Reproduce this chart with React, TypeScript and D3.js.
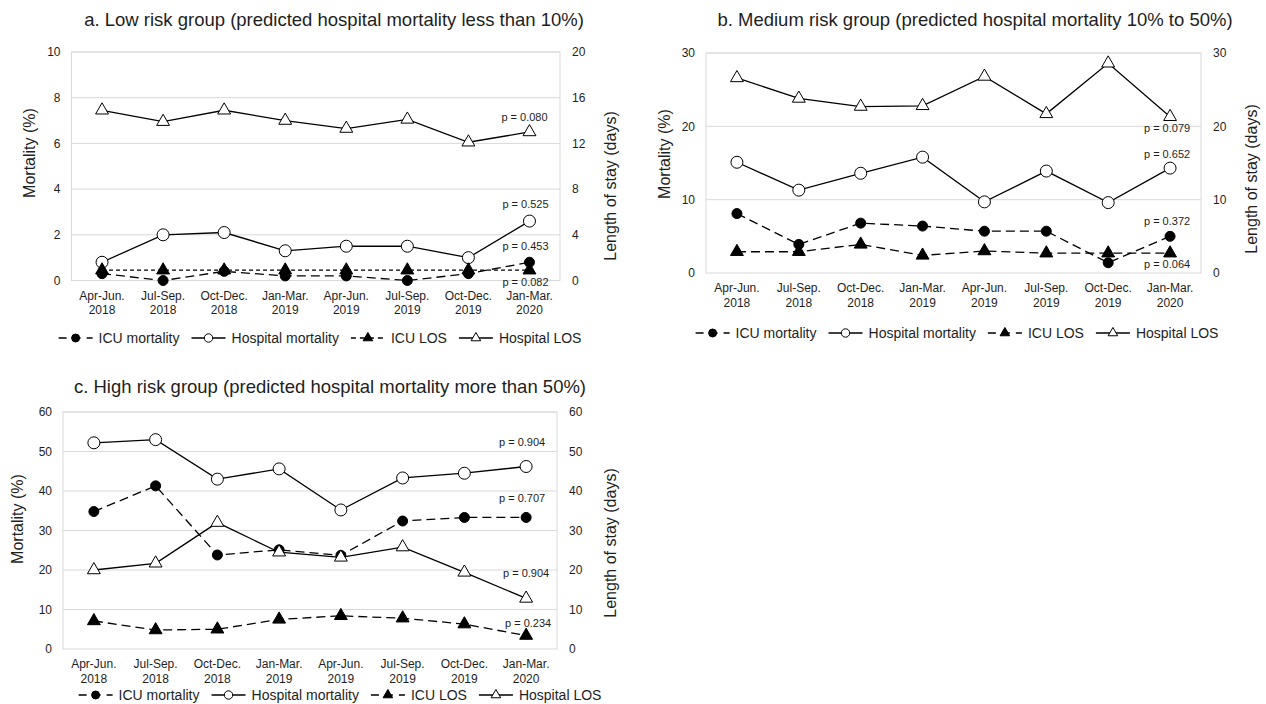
import React, { useEffect, useRef } from "react";
import * as d3 from "d3";

// categories (quarters)
const quarters = [
  "Apr-Jun. 2018",
  "Jul-Sep. 2018",
  "Oct-Dec. 2018",
  "Jan-Mar. 2019",
  "Apr-Jun. 2019",
  "Jul-Sep. 2019",
  "Oct-Dec. 2019",
  "Jan-Mar. 2020",
];
const seriesNames = ["ICU mortality", "Hospital mortality", "ICU LOS", "Hospital LOS"];

// a. Low risk group
const lowIcuMortality = [0.3, 0.0, 0.4, 0.2, 0.2, 0.0, 0.3, 0.8];
const lowHospitalMortality = [0.8, 2.0, 2.1, 1.3, 1.5, 1.5, 1.0, 2.6];
const lowIcuLos = [0.9, 0.9, 0.9, 0.9, 0.9, 0.9, 0.9, 0.9];
const lowHospitalLos = [14.9, 13.9, 14.9, 14.0, 13.3, 14.1, 12.1, 13.0];
const lowPValues = ["0.080", "0.525", "0.453", "0.082"];

// b. Medium risk group
const medIcuMortality = [8.1, 3.9, 6.8, 6.4, 5.7, 5.7, 1.4, 5.0];
const medHospitalMortality = [15.1, 11.3, 13.6, 15.8, 9.7, 13.9, 9.6, 14.3];
const medIcuLos = [2.9, 2.9, 3.9, 2.4, 3.0, 2.7, 2.7, 2.7];
const medHospitalLos = [26.6, 23.8, 22.7, 22.8, 26.8, 21.7, 28.6, 21.3];
const medPValues = ["0.079", "0.652", "0.372", "0.064"];

// c. High risk group
const highIcuMortality = [34.8, 41.3, 23.8, 25.1, 23.7, 32.4, 33.3, 33.3];
const highHospitalMortality = [52.2, 53.0, 43.0, 45.6, 35.2, 43.3, 44.5, 46.2];
const highIcuLos = [7.1, 4.8, 5.0, 7.5, 8.4, 7.8, 6.3, 3.4];
const highHospitalLos = [20.0, 21.7, 32.0, 24.5, 23.2, 25.8, 19.4, 12.8];
const highPValues = ["0.904", "0.707", "0.904", "0.234"];

const FONT = "'Liberation Sans', Arial, sans-serif";
const GRID = "#d9d9d9";
const TEXT = "#1e1e1e";

const panels = [
  {
    title: "a. Low risk group (predicted hospital mortality less than 10%)",
    titleX: 334, titleY: 20,
    left: 71.5, right: 560, top: 52, bottom: 280.5,
    yMax: 10, yStep: 2, y2Max: 20, y2Step: 4,
    leftTitleX: 29, leftTitleY: 153, rightTitleX: 610, rightTitleY: 186,
    legendCx: 320, legendY: 338,
    icuLosDash: "4,3",
    series: [lowIcuMortality, lowHospitalMortality, lowIcuLos, lowHospitalLos],
    pValues: lowPValues,
    pAt: [7.15, 3.35, 1.5, -0.07],
    pDx: [-5, -4, -4, -4],
  },
  {
    title: "b. Medium risk group (predicted hospital mortality 10% to 50%)",
    titleX: 975, titleY: 20,
    left: 706, right: 1201, top: 53, bottom: 273,
    yMax: 30, yStep: 10, y2Max: 30, y2Step: 10,
    leftTitleX: 664, leftTitleY: 154, rightTitleX: 1251, rightTitleY: 179,
    legendCx: 957, legendY: 333,
    icuLosDash: "9,5",
    series: [medIcuMortality, medHospitalMortality, medIcuLos, medHospitalLos],
    pValues: medPValues,
    pAt: [19.8, 16.2, 7.1, 1.2],
    pDx: [-3, -3, -3, -3],
  },
  {
    title: "c. High risk group (predicted hospital mortality more than 50%)",
    titleX: 330, titleY: 387,
    left: 63, right: 557, top: 412, bottom: 649,
    yMax: 60, yStep: 10, y2Max: 60, y2Step: 10,
    leftTitleX: 17, leftTitleY: 519, rightTitleX: 610, rightTitleY: 543,
    legendCx: 340, legendY: 695,
    icuLosDash: "9,5",
    series: [highIcuMortality, highHospitalMortality, highIcuLos, highHospitalLos],
    pValues: highPValues,
    pAt: [52.4, 38.2, 19.2, 6.6],
    pDx: [-4, -4, 0, 2],
  },
];

// marker / axis per series: ICU mortality, Hospital mortality, ICU LOS, Hospital LOS
const seriesKinds = [
  { shape: "circle", fill: "#000", axis: 0, solid: false },
  { shape: "circle", fill: "#fff", axis: 0, solid: true },
  { shape: "triangle", fill: "#000", axis: 1, solid: false },
  { shape: "triangle", fill: "#fff", axis: 1, solid: true },
];

function drawMarker(g, shape, fill, cx, cy, big) {
  if (shape === "circle") {
    g.append("circle")
      .attr("cx", cx).attr("cy", cy)
      .attr("r", fill === "#000" ? (big ? 5 : 4) : (big ? 6 : 4.2))
      .attr("fill", fill)
      .attr("stroke", "#000")
      .attr("stroke-width", 1);
  } else {
    g.append("path")
      .attr("d", d3.symbol().type(d3.symbolTriangle).size(big ? 72 : 40)())
      .attr("transform", `translate(${cx},${cy})`)
      .attr("fill", fill)
      .attr("stroke", "#000")
      .attr("stroke-width", 1);
  }
}

export default function App() {
  const svgRef = useRef(null);

  useEffect(() => {
    const svg = d3.select(svgRef.current);
    svg.selectAll("*").remove();
    svg.attr("font-family", FONT);

    panels.forEach((p) => {
      const g = svg.append("g");
      const x = d3.scalePoint().domain(quarters).range([p.left, p.right]).padding(0.5);
      const y = d3.scaleLinear().domain([0, p.yMax]).range([p.bottom, p.top]);
      const y2 = d3.scaleLinear().domain([0, p.y2Max]).range([p.bottom, p.top]);
      const scales = [y, y2];

      // title
      g.append("text")
        .attr("x", p.titleX).attr("y", p.titleY)
        .attr("dy", "0.35em")
        .attr("text-anchor", "middle")
        .attr("font-size", 18.5)
        .attr("fill", TEXT)
        .text(p.title);

      // gridlines
      const ticks = d3.range(0, p.yMax + 0.001, p.yStep);
      g.append("g").selectAll("line")
        .data(ticks.filter((t) => t > 0))
        .join("line")
        .attr("x1", p.left).attr("x2", p.right)
        .attr("y1", (d) => y(d)).attr("y2", (d) => y(d))
        .attr("stroke", GRID).attr("stroke-width", 1);

      // plot border
      g.append("rect")
        .attr("x", p.left).attr("y", p.top)
        .attr("width", p.right - p.left).attr("height", p.bottom - p.top)
        .attr("fill", "none").attr("stroke", GRID).attr("stroke-width", 1);

      // left ticks
      g.append("g").selectAll("text")
        .data(ticks)
        .join("text")
        .attr("x", p.left - 11).attr("y", (d) => y(d))
        .attr("dy", "0.35em")
        .attr("text-anchor", "end")
        .attr("font-size", 12)
        .attr("fill", TEXT)
        .text((d) => d);

      // right ticks
      g.append("g").selectAll("text")
        .data(d3.range(0, p.y2Max + 0.001, p.y2Step))
        .join("text")
        .attr("x", p.right + 12).attr("y", (d) => y2(d))
        .attr("dy", "0.35em")
        .attr("text-anchor", "start")
        .attr("font-size", 12)
        .attr("fill", TEXT)
        .text((d) => d);

      // category labels (two lines)
      const cat = g.append("g").selectAll("text")
        .data(quarters)
        .join("text")
        .attr("text-anchor", "middle")
        .attr("font-size", 12)
        .attr("fill", TEXT);
      cat.append("tspan")
        .attr("x", (d) => x(d)).attr("y", p.bottom + 15).attr("dy", "0.35em")
        .text((d) => d.split(" ")[0]);
      cat.append("tspan")
        .attr("x", (d) => x(d)).attr("y", p.bottom + 29.5).attr("dy", "0.35em")
        .text((d) => d.split(" ")[1]);

      // axis titles
      g.append("text")
        .attr("transform", `translate(${p.leftTitleX},${p.leftTitleY}) rotate(-90)`)
        .attr("dy", "0.35em")
        .attr("text-anchor", "middle")
        .attr("font-size", 16)
        .attr("fill", TEXT)
        .text("Mortality (%)");
      g.append("text")
        .attr("transform", `translate(${p.rightTitleX},${p.rightTitleY}) rotate(-90)`)
        .attr("dy", "0.35em")
        .attr("text-anchor", "middle")
        .attr("font-size", 16)
        .attr("fill", TEXT)
        .text("Length of stay (days)");

      // series
      p.series.forEach((values, si) => {
        const kind = seriesKinds[si];
        const sc = scales[kind.axis];
        const dash = kind.solid ? null : si === 2 ? p.icuLosDash : "9,5";
        const line = d3.line().x((d, i) => x(quarters[i])).y((d) => sc(d));
        g.append("path")
          .attr("d", line(values))
          .attr("fill", "none")
          .attr("stroke", "#000")
          .attr("stroke-width", 1.3)
          .attr("stroke-dasharray", dash);
        const mg = g.append("g");
        values.forEach((v, i) => drawMarker(mg, kind.shape, kind.fill, x(quarters[i]), sc(v), true));
      });

      // p-values
      p.pValues.forEach((pv, i) => {
        g.append("text")
          .attr("x", x(quarters[quarters.length - 1]) + p.pDx[i])
          .attr("y", y(p.pAt[i]))
          .attr("dy", "0.35em")
          .attr("text-anchor", "middle")
          .attr("font-size", 11)
          .attr("fill", TEXT)
          .text(`p = ${pv}`);
      });

      // legend
      const lg = g.append("g");
      let cx = 0;
      seriesNames.forEach((name, si) => {
        const kind = seriesKinds[si];
        const dash = kind.solid ? null : si === 2 ? p.icuLosDash : "9,5";
        lg.append("line")
          .attr("x1", cx).attr("x2", cx + 34)
          .attr("y1", 0).attr("y2", 0)
          .attr("stroke", "#000").attr("stroke-width", 1.3)
          .attr("stroke-dasharray", dash ? (si === 2 && p.icuLosDash === "4,3" ? "5,4" : "8,6") : null);
        drawMarker(lg, kind.shape, kind.fill, cx + 17, 0, false);
        const t = lg.append("text")
          .attr("x", cx + 40).attr("y", 0)
          .attr("dy", "0.35em")
          .attr("font-size", 14)
          .attr("fill", TEXT)
          .text(name);
        cx += 40 + t.node().getComputedTextLength() + 12;
      });
      const total = cx - 12;
      lg.attr("transform", `translate(${p.legendCx - total / 2},${p.legendY})`);
    });

    return () => {
      d3.select(svgRef.current).selectAll("*").remove();
    };
  }, []);

  return (
    <svg
      ref={svgRef}
      width={1266}
      height={704}
      style={{ position: "absolute", left: 0, top: 0, background: "#fff" }}
    />
  );
}
